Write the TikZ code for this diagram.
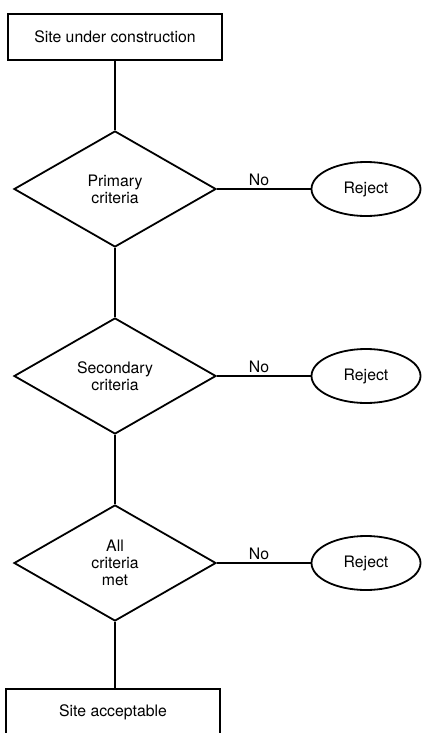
\documentclass[tikz,border=0pt]{standalone}
\usepackage{fontspec}
\setmainfont{TeX Gyre Heros}
\usetikzlibrary{calc,positioning,shapes}

\begin{document}
\begin{tikzpicture}[x=1pt, y=-1pt, line width=1.8pt,
  every node/.style={font=\fontsize{15.8}{17}\selectfont, align=center},
  box/.style={draw, rectangle, minimum width=214pt, minimum height=46pt},
  test/.style={draw, diamond, inner sep=0pt, minimum width=202pt, minimum height=116pt},
  reject/.style={draw, ellipse, minimum width=109pt, minimum height=54pt},
  no/.style={above, inner sep=2pt, pos=0.45}]
\useasboundingbox (0,0) rectangle (422,733);

% Boxes
\node[box] (start) at (115,37) {Site under construction};
\node[box] (ok) at (113,712) {Site acceptable};

% Tests
\node[test] (prim) at (115,189) {Primary\\criteria};
\node[test] (sec) at (115,376) {Secondary\\criteria};
\node[test] (all) at (115,563) {All\\criteria\\met};

\node[reject] (rej1) at (366,189) {Reject};
\node[reject] (rej2) at (366,376) {Reject};
\node[reject] (rej3) at (366,563) {Reject};

\draw (start) -- (prim);
\draw (prim) -- (sec);
\draw (sec) -- (all);
\draw (all.south) -- (all.south |- ok.north);

\draw (prim.east) -- node[no] {No} (rej1.west);
\draw (sec.east) -- node[no] {No} (rej2.west);
\draw (all.east) -- node[no] {No} (rej3.west);

\end{tikzpicture}
\end{document}
